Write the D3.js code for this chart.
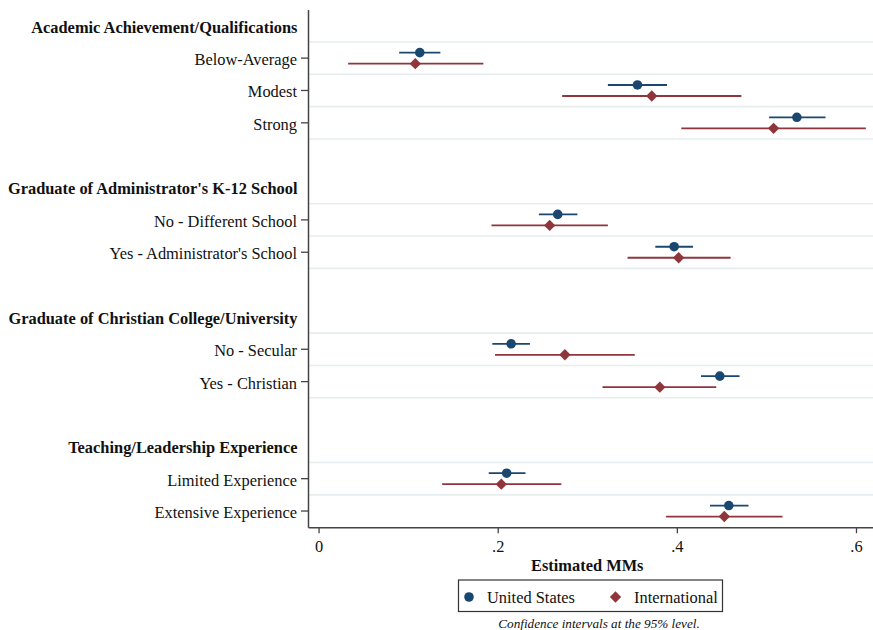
<!DOCTYPE html>
<html>
<head>
<meta charset="utf-8">
<script src="https://cdn.jsdelivr.net/npm/d3@7"></script>
<style>
  html, body { margin: 0; padding: 0; background: #ffffff; }
  svg { display: block; }
  text { font-family: "Liberation Serif", "Times New Roman", serif; fill: #111; }
</style>
</head>
<body>
<svg id="chart" width="873" height="630"></svg>
<script>
// ---- Data ----
const headings = [
  "Academic Achievement/Qualifications",
  "Graduate of Administrator's K-12 School",
  "Graduate of Christian College/University",
  "Teaching/Leadership Experience"
];
const rowLabels = [
  "Below-Average", "Modest", "Strong",
  "No - Different School", "Yes - Administrator's School",
  "No - Secular", "Yes - Christian",
  "Limited Experience", "Extensive Experience"
];
const rowGroup = [0, 0, 0, 1, 1, 2, 2, 3, 3];

const usEst   = [0.113, 0.356, 0.534, 0.267, 0.397, 0.215, 0.448, 0.210, 0.458];
const usLo    = [0.090, 0.323, 0.503, 0.246, 0.376, 0.194, 0.427, 0.190, 0.437];
const usHi    = [0.136, 0.389, 0.566, 0.289, 0.418, 0.236, 0.470, 0.231, 0.480];
const intlEst = [0.108, 0.372, 0.508, 0.258, 0.402, 0.275, 0.381, 0.204, 0.453];
const intlLo  = [0.033, 0.272, 0.405, 0.193, 0.345, 0.197, 0.317, 0.138, 0.388];
const intlHi  = [0.184, 0.472, 0.611, 0.323, 0.460, 0.353, 0.444, 0.271, 0.518];

const seriesNames = ["United States", "International"];
const xTicks = [0, 0.2, 0.4, 0.6];
const xTickLabels = ["0", ".2", ".4", ".6"];
const xTitle = "Estimated MMs";
const note = "Confidence intervals at the 95% level.";

// ---- Layout ----
const svg = d3.select("#chart");
const colUS = "#1a476f", colIntl = "#90353b";
const axisCol = "#444";
const gridCol = "#e6eef0";
const fs = "16.4px";
const plotLeft = 308, plotRight = 873, plotTop = 9.6, plotBottom = 527.2;

// build slot list: heading, rows, blank, heading, rows...
const slots = [];
headings.forEach((h, gi) => {
  slots.push({type: "head", id: "h" + gi, text: h});
  rowLabels.forEach((r, ri) => {
    if (rowGroup[ri] === gi) slots.push({type: "row", id: "r" + ri, text: r, idx: ri});
  });
  if (gi < headings.length - 1) slots.push({type: "blank", id: "b" + gi});
});

const y = d3.scaleBand().domain(slots.map(s => s.id)).range([plotTop, plotBottom]).padding(0);
const bw = y.bandwidth();
const yc = id => y(id) + bw / 2;

const x = d3.scaleLinear().domain([-0.0118, 0.619]).range([plotLeft, plotRight]);

// grid lines (row boundaries)
const gridYs = [];
slots.filter(s => s.type === "row").forEach(s => {
  gridYs.push(y(s.id));
  gridYs.push(y(s.id) + bw);
});
const uniqGrid = Array.from(new Set(gridYs.map(v => v.toFixed(2)))).map(Number)
  .filter(v => v < plotBottom - 1);
svg.append("g").selectAll("line").data(uniqGrid).join("line")
  .attr("x1", plotLeft).attr("x2", plotRight)
  .attr("y1", d => d).attr("y2", d => d)
  .attr("stroke", gridCol).attr("stroke-width", 1.6);

// Y axis
const rowSlots = slots.filter(s => s.type === "row");
const yAxis = d3.axisLeft(y)
  .tickValues(rowSlots.map(s => s.id))
  .tickFormat(id => rowLabels[+id.slice(1)])
  .tickSizeOuter(0).tickSizeInner(7).tickPadding(4);
const gy = svg.append("g").attr("transform", `translate(${plotLeft},0)`).call(yAxis);
gy.select(".domain").attr("stroke", axisCol).attr("stroke-width", 1.5);
gy.selectAll(".tick line").attr("stroke", axisCol).attr("stroke-width", 1.3);
gy.selectAll(".tick text").style("font-size", fs).style("font-family", "'Liberation Serif', serif")
  .attr("fill", "#111").attr("dy", "0.42em");

// headings
svg.append("g").selectAll("text").data(slots.filter(s => s.type === "head")).join("text")
  .attr("x", plotLeft - 10.5).attr("y", d => yc(d.id)).attr("dy", "0.42em")
  .attr("text-anchor", "end")
  .style("font-size", fs).style("font-weight", "bold")
  .text(d => d.text);

// X axis
const xAxis = d3.axisBottom(x).tickValues(xTicks)
  .tickFormat((d, i) => xTickLabels[i]).tickSizeOuter(0).tickSizeInner(6).tickPadding(7);
const gx = svg.append("g").attr("transform", `translate(0,${plotBottom})`).call(xAxis);
gx.select(".domain").attr("stroke", axisCol).attr("stroke-width", 1.5);
gx.selectAll(".tick line").attr("stroke", axisCol).attr("stroke-width", 1.3);
gx.selectAll(".tick text").style("font-size", fs).style("font-family", "'Liberation Serif', serif").attr("fill", "#111");

svg.append("text").attr("x", x(0.3)).attr("y", 565).attr("dy", "0.36em")
  .attr("text-anchor", "middle")
  .style("font-size", fs).style("font-weight", "bold").text(xTitle);

// Data marks
const off = 5.5;
const rows = rowLabels.map((r, i) => ({i, id: "r" + i}));
const gUS = svg.append("g");
gUS.selectAll("line").data(rows).join("line")
  .attr("x1", d => x(usLo[d.i])).attr("x2", d => x(usHi[d.i]))
  .attr("y1", d => yc(d.id) - off).attr("y2", d => yc(d.id) - off)
  .attr("stroke", colUS).attr("stroke-width", 1.8);
const gIn = svg.append("g");
gIn.selectAll("line").data(rows).join("line")
  .attr("x1", d => x(intlLo[d.i])).attr("x2", d => x(intlHi[d.i]))
  .attr("y1", d => yc(d.id) + off).attr("y2", d => yc(d.id) + off)
  .attr("stroke", colIntl).attr("stroke-width", 1.8);

const circ = d3.symbol().type(d3.symbolCircle).size(72);
const diam = d3.symbol().type(d3.symbolSquare).size(64);
gUS.selectAll("path").data(rows).join("path")
  .attr("d", circ)
  .attr("transform", d => `translate(${x(usEst[d.i])},${yc(d.id) - off})`)
  .attr("fill", colUS);
gIn.selectAll("path").data(rows).join("path")
  .attr("d", diam)
  .attr("transform", d => `translate(${x(intlEst[d.i])},${yc(d.id) + off}) rotate(45)`)
  .attr("fill", colIntl);

// Legend
const lg = svg.append("g");
lg.append("rect").attr("x", 458.5).attr("y", 580).attr("width", 264).attr("height", 31.5)
  .attr("fill", "#fff").attr("stroke", "#333").attr("stroke-width", 1.2);
lg.append("path").attr("d", circ).attr("transform", "translate(469,597)").attr("fill", colUS);
lg.append("text").attr("x", 487).attr("y", 597).attr("dy", "0.36em")
  .style("font-size", fs).text(seriesNames[0]);
lg.append("path").attr("d", diam).attr("transform", "translate(615.5,597) rotate(45)").attr("fill", colIntl);
lg.append("text").attr("x", 634).attr("y", 597).attr("dy", "0.36em")
  .style("font-size", fs).text(seriesNames[1]);

svg.append("text").attr("x", 599).attr("y", 623).attr("dy", "0.36em").attr("text-anchor", "middle")
  .style("font-size", "13.2px").style("font-style", "italic")
  .text(note);
</script>
</body>
</html>
